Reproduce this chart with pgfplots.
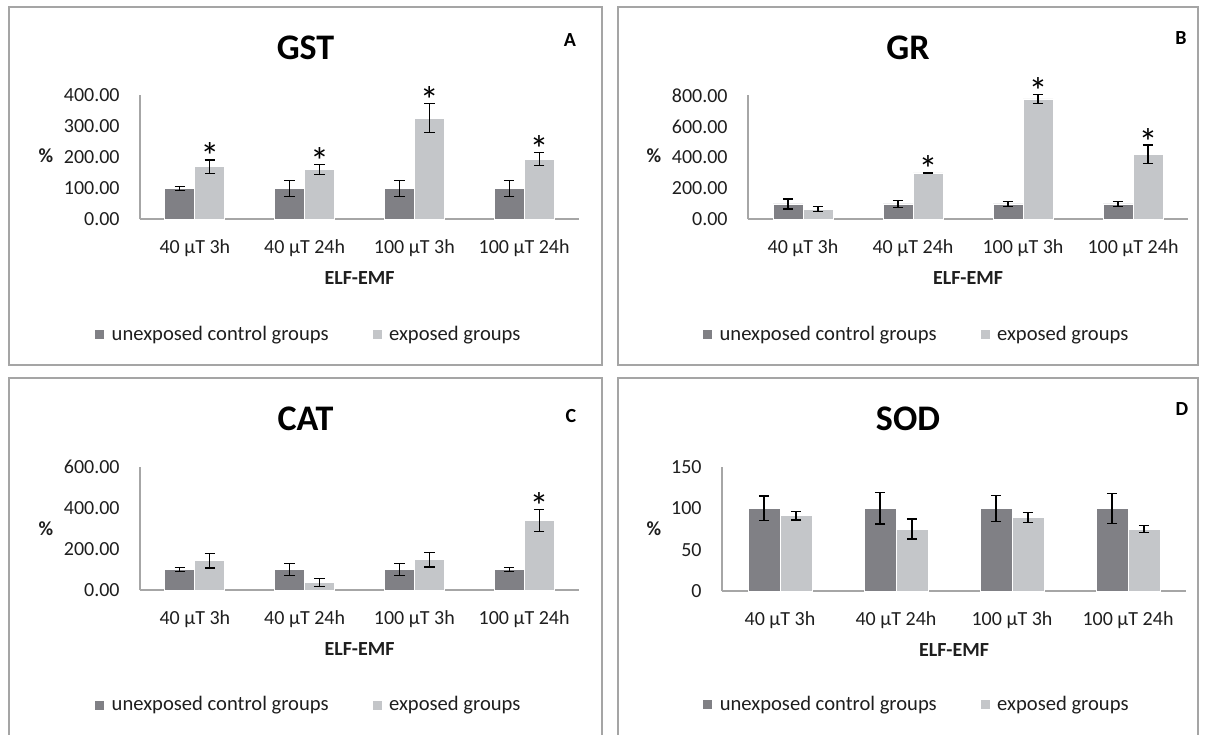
\documentclass[border=0pt]{standalone}
\usepackage{fontspec}
\setmainfont{Carlito}
\usepackage{pgfplots}
\pgfplotsset{compat=1.18}
\definecolor{ctrl}{RGB}{128,128,133}
\definecolor{expo}{RGB}{196,198,201}
\definecolor{axgray}{RGB}{166,166,166}
\definecolor{boxgray}{RGB}{165,165,165}
\definecolor{txt}{RGB}{30,30,30}

\tikzset{star/.style={anchor=base, inner sep=0pt, yshift=-5pt, font=\fontsize{19}{19}\selectfont}}
\pgfplotsset{
  panel/.style={
    scale only axis,
    xmin=-0.5, xmax=3.5, ymin=0,
    axis x line*=bottom, axis y line*=left,
    axis line style={axgray, line width=1pt},
    major tick length=0pt,
    xtick={0,1,2,3},
    xticklabels={40 µT 3h, 40 µT 24h, 100 µT 3h, 100 µT 24h},
    xticklabel style={anchor=base, yshift=-17pt, font=\fontsize{10}{12}\selectfont, text=txt},
    yticklabel style={anchor=east, inner sep=0pt, xshift=-10pt, font=\fontsize{10}{12}\selectfont, text=txt},
    /pgf/number format/assume math mode=true,
    xlabel={ELF-EMF},
    xlabel style={at={(axis description cs:0.5,0)}, anchor=base, yshift=-32.5pt, font=\bfseries\fontsize{10}{12}\selectfont, text=txt},
    ybar=0pt,
    bar width=15pt,
    clip=false,
    legend columns=2,
    legend cell align=left,
    legend image code/.code={\fill[##1,draw=none] (0pt,-2.25pt) rectangle (4.5pt,2.25pt); \path (6pt,0pt);},
    legend style={draw=none, fill=none, inner sep=0pt, font=\fontsize{10.3}{12}\selectfont, text=txt,
      /tikz/every even column/.append style={column sep=20pt}},
    error bars/y dir=both, error bars/y explicit,
    error bars/error mark options={rotate=90, mark size=2.6pt, line width=0.6pt, black},
    error bars/error bar style={line width=0.6pt, black},
  },
  twodec/.style={yticklabel style={/pgf/number format/.cd, fixed, fixed zerofill, precision=2}},
  ctrlbar/.style={fill=ctrl, draw=white, line width=0.4pt},
  expobar/.style={fill=expo, draw=white, line width=0.4pt},
}

\begin{document}
\begin{tikzpicture}
\useasboundingbox (0,0) rectangle (604pt,367pt);

% panel frames
\draw[boxgray, line width=0.6pt] (4.5pt,363.5pt) rectangle (301pt,184.5pt);
\draw[boxgray, line width=0.6pt] (309pt,363.5pt) rectangle (599pt,184.5pt);
\draw[boxgray, line width=0.6pt] (4.5pt,178pt) rectangle (301pt,-5pt);
\draw[boxgray, line width=0.6pt] (309pt,178pt) rectangle (599pt,-5pt);

% ---------------- A: GST
\begin{axis}[panel, twodec, at={(70pt,257.25pt)}, anchor=south west,
  width=219.5pt, height=62pt, ymax=400, ytick={0,100,200,300,400},
  legend style={at={(0.387,-0.931)}, anchor=center}]
\addplot[ctrlbar] coordinates {(0,100) +- (0,6) (1,100) +- (0,25) (2,100) +- (0,27) (3,100) +- (0,26)};
\addplot[expobar] coordinates {(0,170) +- (0,22) (1,161) +- (0,16) (2,327) +- (0,46) (3,195) +- (0,22)};
\legend{unexposed control groups, exposed groups}
\node[star, xshift=7.5pt] at (axis cs:0,192) {*};
\node[star, xshift=7.5pt] at (axis cs:1,177) {*};
\node[star, xshift=7.5pt] at (axis cs:2,373) {*};
\node[star, xshift=7.5pt] at (axis cs:3,217) {*};
\end{axis}

% ---------------- B: GR
\begin{axis}[panel, twodec, at={(374pt,257.25pt)}, anchor=south west,
  width=220pt, height=62pt, ymax=800, ytick={0,200,400,600,800},
  legend style={at={(0.386,-0.931)}, anchor=center}]
\addplot[ctrlbar] coordinates {(0,100) +- (0,32) (1,100) +- (0,24) (2,100) +- (0,16) (3,100) +- (0,15)};
\addplot[expobar] coordinates {(0,66) +- (0,16) (1,300) +- (0,4) (2,778) +- (0,28) (3,420) +- (0,60)};
\legend{unexposed control groups, exposed groups}
\node[star, xshift=7.5pt] at (axis cs:1,304) {*};
\node[star, xshift=7.5pt] at (axis cs:2,806) {*};
\node[star, xshift=7.5pt] at (axis cs:3,480) {*};
\end{axis}

% ---------------- C: CAT
\begin{axis}[panel, twodec, at={(70pt,72pt)}, anchor=south west,
  width=219.5pt, height=61.5pt, ymax=600, ytick={0,200,400,600},
  legend style={at={(0.387,-0.935)}, anchor=center}]
\addplot[ctrlbar] coordinates {(0,100) +- (0,9) (1,100) +- (0,28) (2,100) +- (0,28) (3,100) +- (0,11)};
\addplot[expobar] coordinates {(0,143) +- (0,36) (1,38) +- (0,19) (2,148) +- (0,36) (3,340) +- (0,54)};
\legend{unexposed control groups, exposed groups}
\node[star, xshift=7.5pt] at (axis cs:3,394) {*};
\end{axis}

% ---------------- D: SOD
\begin{axis}[panel, at={(361pt,71.5pt)}, anchor=south west,
  width=232pt, height=62pt, ymax=150, ytick={0,50,100,150}, bar width=16pt,
  legend style={at={(0.4224,-0.919)}, anchor=center}]
\addplot[ctrlbar] coordinates {(0,100) +- (0,15) (1,100) +- (0,19) (2,100) +- (0,16) (3,100) +- (0,18)};
\addplot[expobar] coordinates {(0,91) +- (0,5) (1,75) +- (0,12) (2,89) +- (0,6) (3,75) +- (0,4.5)};
\legend{unexposed control groups, exposed groups}
\end{axis}

% titles, letters, % labels
\node[anchor=base, font=\bfseries\fontsize{18}{18}\selectfont] at (152.75pt,337pt) {GST};
\node[anchor=base, font=\bfseries\fontsize{18}{18}\selectfont] at (454pt,337pt) {GR};
\node[anchor=base, font=\bfseries\fontsize{18}{18}\selectfont] at (152.75pt,152pt) {CAT};
\node[anchor=base, font=\bfseries\fontsize{18}{18}\selectfont] at (454pt,152pt) {SOD};
\node[anchor=base, font=\bfseries\fontsize{10}{10}\selectfont] at (285pt,343.5pt) {A};
\node[anchor=base, font=\bfseries\fontsize{10}{10}\selectfont] at (590.5pt,344.5pt) {B};
\node[anchor=base, font=\bfseries\fontsize{10}{10}\selectfont] at (285.5pt,156pt) {C};
\node[anchor=base, font=\bfseries\fontsize{10}{10}\selectfont] at (591pt,159.5pt) {D};
\node[anchor=base, font=\bfseries\fontsize{10}{10}\selectfont, text=txt] at (23pt,285.5pt) {\%};
\node[anchor=base, font=\bfseries\fontsize{10}{10}\selectfont, text=txt] at (327pt,285.5pt) {\%};
\node[anchor=base, font=\bfseries\fontsize{10}{10}\selectfont, text=txt] at (23pt,99.5pt) {\%};
\node[anchor=base, font=\bfseries\fontsize{10}{10}\selectfont, text=txt] at (327pt,99.5pt) {\%};
\end{tikzpicture}
\end{document}
